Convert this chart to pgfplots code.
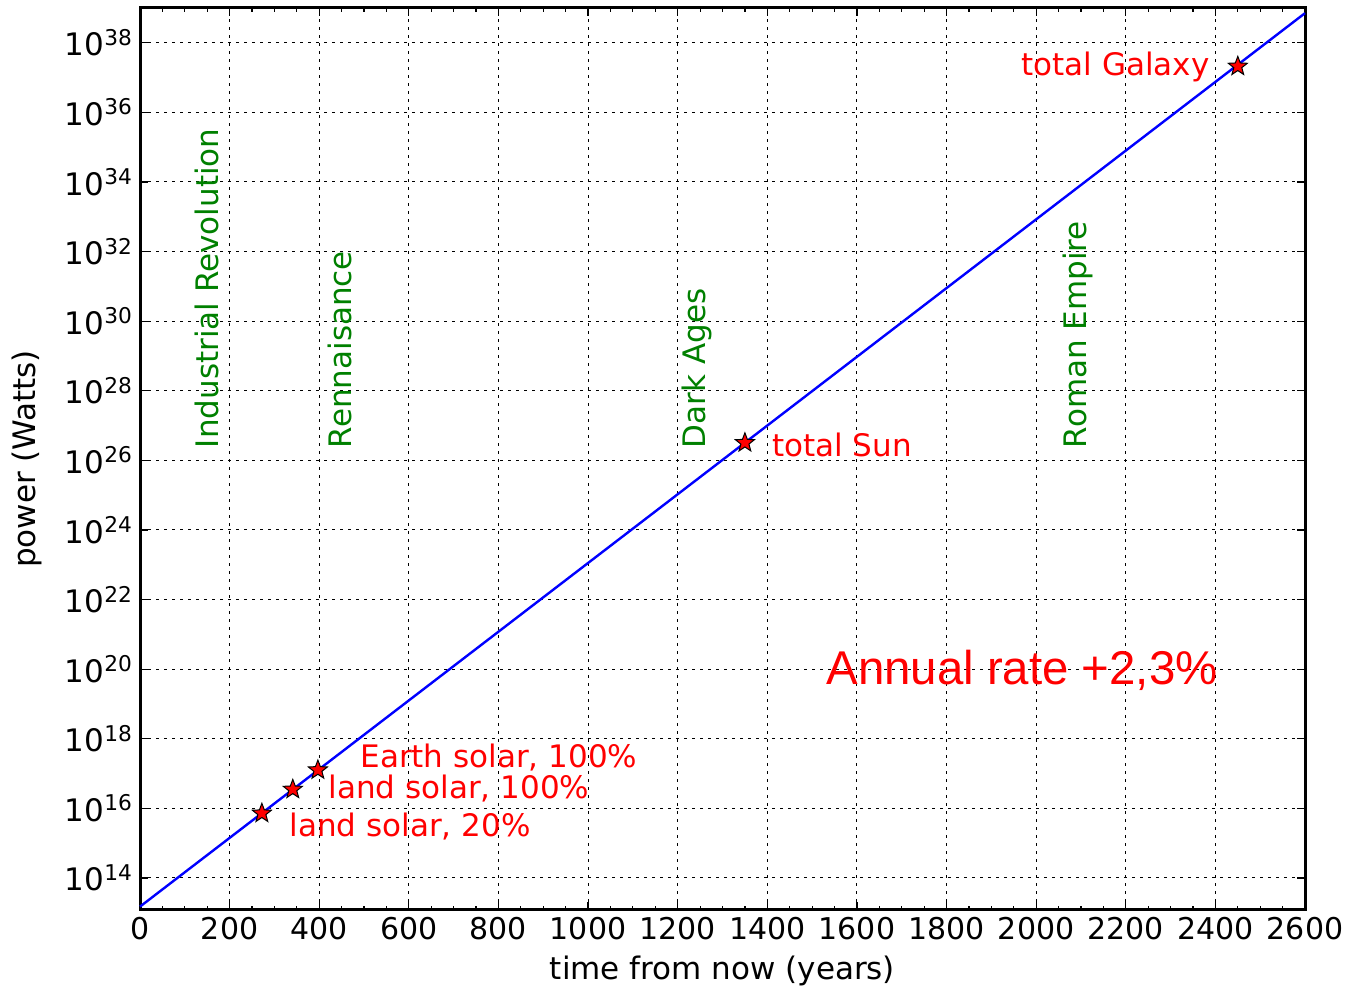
\documentclass[border=0pt]{standalone}
\usepackage{fontspec}
\setmainfont{DejaVu Sans}
\newfontfamily\arialfont{Liberation Sans}
\usepackage{pgfplots}
\pgfplotsset{compat=1.18}

\definecolor{mplgreen}{RGB}{0,128,0}

% filled five-point star
\pgfdeclareplotmark{fstar}{%
  \pgfpathmoveto{\pgfpointpolar{90}{\pgfplotmarksize}}%
  \pgfpathlineto{\pgfpointpolar{126}{0.42\pgfplotmarksize}}%
  \pgfpathlineto{\pgfpointpolar{162}{\pgfplotmarksize}}%
  \pgfpathlineto{\pgfpointpolar{198}{0.42\pgfplotmarksize}}%
  \pgfpathlineto{\pgfpointpolar{234}{\pgfplotmarksize}}%
  \pgfpathlineto{\pgfpointpolar{270}{0.42\pgfplotmarksize}}%
  \pgfpathlineto{\pgfpointpolar{306}{\pgfplotmarksize}}%
  \pgfpathlineto{\pgfpointpolar{342}{0.42\pgfplotmarksize}}%
  \pgfpathlineto{\pgfpointpolar{18}{\pgfplotmarksize}}%
  \pgfpathlineto{\pgfpointpolar{54}{0.42\pgfplotmarksize}}%
  \pgfpathclose
  \pgfusepathqfillstroke}

\begin{document}
\begin{tikzpicture}
\begin{semilogyaxis}[
    scale only axis,
    width=582.5pt, height=451pt,
    xmin=0, xmax=2600,
    ymin=1.2e13, ymax=1e39,
    xtick={0,200,...,2600},
    minor x tick num=3,
    ytick={1e14,1e16,1e18,1e20,1e22,1e24,1e26,1e28,1e30,1e32,1e34,1e36,1e38},
    yticklabels={10\textsuperscript{14},10\textsuperscript{16},10\textsuperscript{18},10\textsuperscript{20},
                 10\textsuperscript{22},10\textsuperscript{24},10\textsuperscript{26},10\textsuperscript{28},
                 10\textsuperscript{30},10\textsuperscript{32},10\textsuperscript{34},10\textsuperscript{36},
                 10\textsuperscript{38}},
    yminorticks=false,
    tick align=inside,
    major tick length=4pt, minor tick length=2pt,
    tick style={black, line width=0.6pt},
    /pgf/number format/assume math mode=true,
    /pgf/number format/1000 sep={},
    tick label style={font=\fontsize{15}{18}\selectfont},
    yticklabel style={font=\fontsize{15.5}{18}\selectfont},
    xlabel={time from now (years)},
    ylabel={power (Watts)},
    label style={font=\fontsize{15.5}{18}\selectfont},
    xlabel style={yshift=-1pt},
    ylabel style={yshift=4.5pt},
    axis line style={line width=1.5pt},
    grid=major,
    major grid style={black, line width=0.5pt, dash pattern=on 1.5pt off 2.5pt},
    clip=false,
]
% 2.3 % annual growth from today's ~1.5e13 W
\addplot[blue, line width=1.2pt] coordinates {(0,1.5e13) (2600,7.1e38)};

\addplot[only marks, mark=fstar, mark size=5pt,
         mark options={fill=red, draw=black, line width=0.5pt}] coordinates {
    (272,7.2e15) (341,3.5e16) (397,1.26e17) (1350,3.2e26) (2450,2.1e37)
};

\begin{scope}[every node/.style={text=red, inner sep=0pt, font=\fontsize{15.5}{18}\selectfont}]
\node[anchor=west] at (axis cs:491,2.95e17) {Earth solar, 100\%};
\node[anchor=west] at (axis cs:420,3.6e16) {land solar, 100\%};
\node[anchor=west] at (axis cs:333,3.1e15) {land solar, 20\%};
\node[anchor=west] at (axis cs:1410,2.7e26) {total Sun};
\node[anchor=east] at (axis cs:2388,2.0e37) {total Galaxy};
\end{scope}

\node[anchor=west, inner sep=0pt, text=red, font=\arialfont\fontsize{23.7}{28}\selectfont]
    at (axis cs:1531,9.3e19) {Annual rate +2,3\%};

\begin{scope}[every node/.style={text=mplgreen, inner sep=0pt, rotate=90, anchor=west,
                                 font=\fontsize{15.5}{18}\selectfont}]
\node at (axis cs:150,2.2e26) {Industrial Revolution};
\node at (axis cs:446,2.2e26) {Rennaisance};
\node at (axis cs:1243,2.2e26) {Dark Ages};
\node at (axis cs:2094,2.2e26) {Roman Empire};
\end{scope}
\end{semilogyaxis}
\path (current axis.south west) +(-70pt,-38pt) (current axis.north east) +(23pt,4pt);
\end{tikzpicture}
\end{document}
